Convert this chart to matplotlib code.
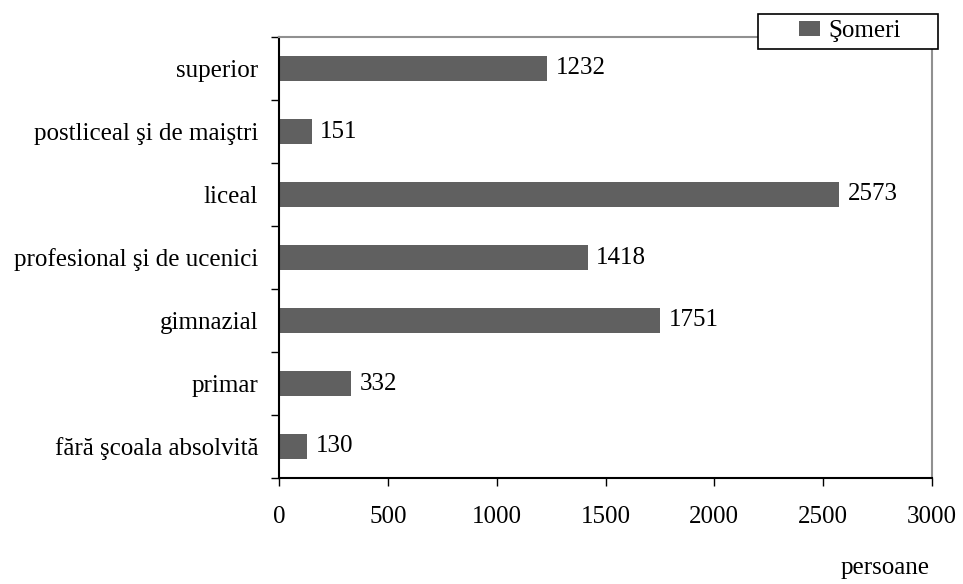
import numpy as np
import matplotlib.pyplot as plt
from matplotlib.patches import Rectangle

categories = ['fără şcoala absolvită', 'primar', 'gimnazial', 'profesional şi de ucenici',
              'liceal', 'postliceal şi de maiştri', 'superior']
values = [130, 332, 1751, 1418, 2573, 151, 1232]
xticks = [0, 500, 1000, 1500, 2000, 2500, 3000]

plt.rcParams['font.family'] = ['Liberation Serif', 'DejaVu Serif']
plt.rcParams['font.size'] = 18

fig = plt.figure(figsize=(9.63, 5.84), dpi=100)
ax = fig.add_axes([279 / 963, 1 - 478 / 584, (932 - 279) / 963, (478 - 37) / 584])

y = np.arange(len(categories))
bars = ax.barh(y, values, height=0.41, color='#606060', label='Şomeri')
for b, v in zip(bars, values):
    ax.annotate(str(v), (v, b.get_y() + b.get_height() / 2), xytext=(6, 0),
                textcoords='offset points', va='center', ha='left', fontsize=18)

ax.set_xlim(0, 3000)
ax.set_ylim(-0.5, len(categories) - 0.5)
ax.set_xticks(xticks)
ax.set_xticklabels([str(t) for t in xticks])
ax.set_yticks(y)
ax.set_yticklabels(categories)
ax.set_yticks(np.arange(-0.5, len(categories)), minor=True)
ax.tick_params(axis='y', which='major', length=0, pad=15)
ax.tick_params(axis='y', which='minor', length=6, direction='out', width=1)
ax.tick_params(axis='x', length=6, direction='out', width=1, pad=14)

ax.spines['left'].set_color('black')
ax.spines['bottom'].set_color('black')
ax.spines['top'].set_color('#909090')
ax.spines['right'].set_color('#909090')
for s in ax.spines.values():
    s.set_linewidth(1.5)

fig.text(930 / 963, 1 - 568 / 584, 'persoane', ha='right', va='center', fontsize=18)

# legend box (Excel-style, wider than its content)
bx, by, bw, bh = 758 / 963, 1 - 49 / 584, 180 / 963, 35 / 584
fig.patches.append(Rectangle((bx, by), bw, bh, transform=fig.transFigure,
                             facecolor='white', edgecolor='black', linewidth=1.2,
                             zorder=3))
fig.legend(handles=[bars], labels=['Şomeri'], loc='center',
           bbox_to_anchor=(bx + bw / 2 + 2 / 963, by + bh / 2), frameon=False,
           handlelength=0.85, handleheight=0.56, handletextpad=0.35,
           borderpad=0, borderaxespad=0, fontsize=18)

fig.savefig('out.png', dpi=100)
